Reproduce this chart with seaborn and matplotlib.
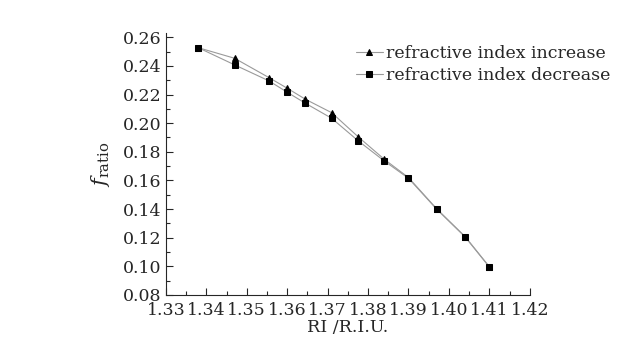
import matplotlib
matplotlib.use("Agg")
import matplotlib.pyplot as plt
import seaborn as sns
import pandas as pd
from matplotlib.ticker import MultipleLocator

ri = [1.338, 1.347, 1.3555, 1.360, 1.3645, 1.371, 1.3775, 1.384, 1.390, 1.397, 1.404, 1.410]
f_increase = [0.2527, 0.2453, 0.2318, 0.2244, 0.2167, 0.2073, 0.1906, 0.1748, 0.1620, 0.1401, 0.1208, 0.0997]
f_decrease = [0.2527, 0.2407, 0.2295, 0.2216, 0.2139, 0.2034, 0.1878, 0.1736, 0.1615, 0.1398, 0.1205, 0.0995]
labels = ["refractive index increase", "refractive index decrease"]
x_ticks = [1.33, 1.34, 1.35, 1.36, 1.37, 1.38, 1.39, 1.40, 1.41, 1.42]
y_ticks = [0.08, 0.10, 0.12, 0.14, 0.16, 0.18, 0.20, 0.22, 0.24, 0.26]

sns.set_style("ticks")
plt.rcParams['font.family'] = ['DejaVu Serif']
plt.rcParams['mathtext.fontset'] = 'dejavuserif'

df_inc = pd.DataFrame({"RI": ri, "f": f_increase})
df_dec = pd.DataFrame({"RI": ri, "f": f_decrease})

fig = plt.figure(figsize=(6.33, 3.43), dpi=100)
ax = fig.add_axes([0.262, 0.140, 0.575, 0.764])

sns.lineplot(data=df_inc, x="RI", y="f", ax=ax, color="#9a9a9a", lw=0.8,
             marker="^", markersize=4.8, markerfacecolor="black", markeredgecolor="black",
             label=labels[0])
sns.lineplot(data=df_dec, x="RI", y="f", ax=ax, color="#9a9a9a", lw=0.8,
             marker="s", markersize=4, markerfacecolor="black", markeredgecolor="black",
             label=labels[1])

ax.set_xlim(1.33, 1.42)
ax.set_ylim(0.08, 0.263)
ax.set_xticks(x_ticks)
ax.set_xticklabels([f"{v:.2f}" for v in x_ticks])
ax.set_yticks(y_ticks)
ax.set_yticklabels([f"{v:.2f}" for v in y_ticks])
ax.xaxis.set_minor_locator(MultipleLocator(0.005))
ax.yaxis.set_minor_locator(MultipleLocator(0.01))
ax.tick_params(which="major", direction="in", length=5, width=0.8, labelsize=12.5)
ax.tick_params(axis="x", which="major", pad=5)
ax.tick_params(axis="y", which="major", pad=3)
ax.tick_params(which="minor", direction="in", length=3, width=0.8)
for s in ["top", "right"]:
    ax.spines[s].set_visible(False)
for s in ["left", "bottom"]:
    ax.spines[s].set_linewidth(0.8)

ax.set_xlabel("RI /R.I.U.", fontsize=12.5, labelpad=0)
ax.set_ylabel(r"$f_{\mathrm{ratio}}$", fontsize=15, labelpad=8)

ax.legend(frameon=False, loc="upper left", bbox_to_anchor=(0.548, 0.895),
          bbox_transform=fig.transFigure, fontsize=12.5, handlelength=1.6,
          handletextpad=0.15, labelspacing=0.3, borderpad=0)

fig.savefig("out.png", dpi=100)
